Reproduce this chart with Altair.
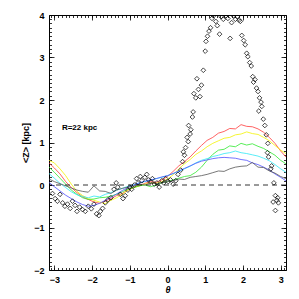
import altair as alt
import pandas as pd
import numpy as np

# ---- data ----
theta = [-3.14, -3.0, -2.85, -2.7, -2.55, -2.4, -2.25, -2.1, -1.95, -1.8, -1.65,
         -1.5, -1.35, -1.2, -1.05, -0.9, -0.75, -0.6, -0.45, -0.3, -0.15, 0.0,
         0.15, 0.3, 0.45, 0.6, 0.75, 0.9, 1.05, 1.2, 1.35, 1.5, 1.65, 1.8, 1.95,
         2.1, 2.25, 2.4, 2.55, 2.7, 2.85, 3.0, 3.14]

z_red = [0.52, 0.40, 0.26, 0.08, -0.06, -0.18, -0.28, -0.34, -0.40, -0.43, -0.38,
         -0.32, -0.25, -0.20, -0.12, -0.06, -0.02, 0.04, 0.08, 0.06, 0.12, 0.20,
         0.32, 0.45, 0.55, 0.66, 0.80, 0.93, 1.05, 1.12, 1.22, 1.26, 1.33, 1.32, 1.42,
         1.38, 1.37, 1.32, 1.24, 1.12, 0.98, 0.80, 0.66]
z_yellow = [0.58, 0.52, 0.38, 0.22, 0.02, -0.15, -0.25, -0.32, -0.36, -0.40, -0.44,
            -0.36, -0.30, -0.22, -0.12, -0.06, -0.02, 0.02, 0.05, 0.04, 0.08, 0.14,
            0.24, 0.38, 0.50, 0.60, 0.72, 0.80, 0.90, 0.98, 1.04, 1.10, 1.12, 1.18, 1.20,
            1.25, 1.21, 1.19, 1.12, 1.04, 0.93, 0.82, 0.74]
z_green = [0.42, 0.30, 0.16, 0.02, -0.12, -0.22, -0.30, -0.34, -0.33, -0.30, -0.29,
           -0.26, -0.22, -0.16, -0.10, -0.06, -0.02, 0.00, -0.04, 0.00, 0.05, 0.08,
           0.12, 0.16, 0.20, 0.22, 0.30, 0.42, 0.58, 0.72, 0.82, 0.84, 0.92, 0.90, 0.98,
           0.94, 0.97, 0.91, 0.86, 0.78, 0.70, 0.58, 0.50]
z_cyan = [0.27, 0.16, 0.04, -0.06, -0.16, -0.23, -0.27, -0.30, -0.26, -0.28, -0.22,
          -0.18, -0.12, -0.08, -0.03, 0.00, 0.05, 0.08, 0.11, 0.15, 0.18, 0.22,
          0.27, 0.32, 0.38, 0.44, 0.52, 0.58, 0.62, 0.67, 0.70, 0.74, 0.76, 0.80, 0.76,
          0.74, 0.71, 0.68, 0.63, 0.57, 0.48, 0.38, 0.30]
z_blue = [0.06, -0.04, -0.14, -0.24, -0.32, -0.40, -0.46, -0.50, -0.48, -0.43, -0.36,
          -0.29, -0.21, -0.13, -0.06, 0.00, 0.05, 0.09, 0.12, 0.15, 0.19, 0.22,
          0.27, 0.33, 0.39, 0.45, 0.51, 0.56, 0.59, 0.62, 0.64, 0.65, 0.64, 0.63, 0.60,
          0.58, 0.52, 0.48, 0.42, 0.35, 0.26, 0.18, 0.10]
z_black = [0.14, 0.08, 0.03, -0.02, -0.07, -0.12, -0.15, -0.17, -0.02, -0.14, -0.15,
           -0.20, -0.12, -0.08, -0.05, -0.02, 0.02, 0.00, 0.05, 0.03, 0.05, 0.08,
           0.10, 0.14, 0.13, 0.18, 0.20, 0.22, 0.25, 0.29, 0.33, 0.32, 0.38, 0.42, 0.44,
           0.45, 0.53, 0.42, 0.41, 0.33, 0.28, 0.20, 0.15]

pt_theta = [-3.05, -2.98, -2.92, -2.85, -2.78, -2.72, -2.65, -2.58, -2.52, -2.45,
            -2.40, -2.33, -2.25, -2.18, -2.10, -2.02, -1.95, -1.88, -1.82, -1.78,
            -1.72, -1.65, -1.58, -1.50, -1.42, -1.36, -1.32, -1.25, -1.18, -1.12,
            -1.05, -1.00, -0.95, -0.88, -0.82, -0.78, -0.72, -0.68, -0.60, -0.55,
            -0.50, -0.45, -0.40, -0.35, -0.28, -0.22, -0.15, -0.10, -0.05, 0.02,
            0.08, 0.15, 0.22, 0.28, 0.35,
            0.40, 0.42, 0.45, 0.48, 0.52, 0.55, 0.56, 0.60, 0.62, 0.66,
            0.68, 0.70, 0.75, 0.78, 0.82, 0.86, 0.90, 0.95, 1.00, 1.02,
            1.06, 1.10, 1.14, 1.18, 1.22, 1.28, 1.32, 1.38, 1.42, 1.48,
            1.55, 1.60, 1.66, 1.70, 1.75, 1.80, 1.85, 1.90, 1.93, 1.97,
            2.02, 2.06, 2.10, 2.13, 2.18, 2.22, 2.26, 2.28, 2.32, 2.36,
            2.40, 2.44, 2.48, 2.50, 2.42, 2.54, 2.58, 2.62, 2.66, 2.65,
            2.68, 2.76, 2.74, 2.82, 2.86, 2.80, 2.90, 2.94, 2.86, 2.92]
pt_z = [-0.20, -0.32, -0.38, -0.22, -0.42, -0.50, -0.45, -0.55, -0.38, -0.48,
        -0.62, -0.52, -0.58, -0.62, -0.50, -0.56, -0.45, -0.68, -0.72, -0.62,
        -0.55, -0.42, -0.35, -0.30, -0.10, 0.05, -0.05, -0.22, -0.32, -0.25,
        -0.12, -0.05, -0.10, 0.00, 0.15, 0.05, 0.20, 0.10, 0.18, 0.25,
        0.12, 0.08, 0.15, 0.02, 0.05, -0.05, 0.10, 0.05, 0.15, 0.08,
        0.12, 0.02, 0.10, 0.25, 0.35,
        0.55, 0.78, 0.70, 0.88, 1.12, 1.02, 1.40, 1.20, 1.30, 1.60,
        1.72, 2.15, 2.05, 2.50, 2.25, 2.08, 2.35, 2.70, 3.15, 3.38,
        3.50, 3.62, 3.70, 3.92, 3.98, 3.85, 3.75, 3.55, 3.96, 3.90,
        3.98, 3.92, 3.45, 3.82, 3.98, 3.90, 3.96, 3.88, 3.85, 3.52,
        3.40, 3.30, 3.10, 3.02, 2.88, 2.80, 2.55, 2.42, 2.48, 2.28,
        2.20, 2.05, 1.95, 1.85, 1.74, 1.55, 1.40, 1.18, 0.98, 0.76,
        0.66, 0.45, 0.38, 0.05, -0.25, -0.40, -0.36, -0.42, -0.60, -0.30]

series_names = ["red", "yellow", "green", "cyan", "blue", "black"]
series_vals = [z_red, z_yellow, z_green, z_cyan, z_blue, z_black]
series_colors = ["#ff3b3b", "#f2f200", "#2ee82e", "#2ee8f5", "#5050ff", "#555555"]

x_major = [-3, -2, -1, 0, 1, 2, 3]
y_major = [-2, -1, 0, 1, 2, 3, 4]
x_minor = [round(v / 10, 1) for v in range(-31, 32)]
y_minor = [round(v / 10, 1) for v in range(-20, 41)]

# ---- tables ----
rows = []
for name, vals in zip(series_names, series_vals):
    assert len(vals) == len(theta)
    for t, v in zip(theta, vals):
        rows.append({"theta": t, "z": v, "s": name})
lines_df = pd.DataFrame(rows)
pts_df = pd.DataFrame({"theta": pt_theta, "z": pt_z})

xscale = alt.Scale(domain=[-np.pi, np.pi], nice=False, zero=False)
yscale = alt.Scale(domain=[-2, 4], nice=False, zero=False)

FONT = "Liberation Sans"

lines = alt.Chart(lines_df).mark_line(strokeWidth=0.8, clip=True).encode(
    x=alt.X("theta:Q", scale=xscale, axis=None),
    y=alt.Y("z:Q", scale=yscale, axis=None),
    color=alt.Color("s:N", scale=alt.Scale(domain=series_names, range=series_colors),
                    legend=None, sort=series_names),
)

points = alt.Chart(pts_df).mark_point(shape="diamond", filled=False, color="black",
                                      size=22, strokeWidth=0.8, opacity=0.9,
                                      clip=True).encode(
    x=alt.X("theta:Q", scale=xscale, axis=None),
    y=alt.Y("z:Q", scale=yscale, axis=None),
)

zero = alt.Chart(pd.DataFrame({"z": [0.0]})).mark_rule(
    color="black", strokeDash=[5, 4], strokeWidth=0.8).encode(
    y=alt.Y("z:Q", scale=yscale, axis=None))

label = alt.Chart(pd.DataFrame({"theta": [-2.8], "z": [1.35], "t": ["R=22 kpc"]})).mark_text(
    align="left", baseline="middle", font=FONT, fontSize=8, fontWeight="bold",
    color="black").encode(
    x=alt.X("theta:Q", scale=xscale, axis=None),
    y=alt.Y("z:Q", scale=yscale, axis=None),
    text="t:N")

dummy = pd.DataFrame({"theta": [0.0], "z": [0.0]})


def axis_layer(xaxis, yaxis):
    return alt.Chart(dummy).mark_point(opacity=0).encode(
        x=alt.X("theta:Q", scale=xscale, axis=xaxis),
        y=alt.Y("z:Q", scale=yscale, axis=yaxis))


common = dict(domain=False, grid=False, tickColor="black", tickWidth=0.8)

ax1 = axis_layer(
    alt.Axis(orient="bottom", values=x_major, offset=-5, tickSize=5, labelFont=FONT,
             labelFontSize=9, labelFontWeight="bold", labelColor="black", labelPadding=5,
             title="θ", titleFont=FONT, titleFontSize=9, titleFontWeight="bold",
             titleFontStyle="italic", titlePadding=1, titleColor="black", **common),
    alt.Axis(orient="left", values=y_major, offset=-5, tickSize=5, labelFont=FONT,
             labelFontSize=9, labelFontWeight="bold", labelColor="black", labelPadding=5,
             title="<Z> [kpc]", titleFont=FONT, titleFontSize=9, titleFontWeight="bold",
             titlePadding=3, titleColor="black", **common))
ax2 = axis_layer(
    alt.Axis(orient="bottom", values=x_minor, offset=-2.5, tickSize=2.5, labels=False,
             title=None, **common),
    alt.Axis(orient="left", values=y_minor, offset=-2.5, tickSize=2.5, labels=False,
             title=None, **common))
ax3 = axis_layer(
    alt.Axis(orient="top", values=x_major, offset=-5, tickSize=5, labels=False,
             title=None, **common),
    alt.Axis(orient="right", values=y_major, offset=-5, tickSize=5, labels=False,
             title=None, **common))
ax4 = axis_layer(
    alt.Axis(orient="top", values=x_minor, offset=-2.5, tickSize=2.5, labels=False,
             title=None, **common),
    alt.Axis(orient="right", values=y_minor, offset=-2.5, tickSize=2.5, labels=False,
             title=None, **common))

chart = alt.layer(lines, zero, points, label, ax1, ax2, ax3, ax4).resolve_axis(
    x="independent", y="independent"
).properties(
    width=237, height=255,
    autosize=alt.AutoSizeParams(type="none"),
    padding={"left": 41, "top": 7, "right": 5, "bottom": 28},
    background="white",
).configure_view(stroke="black", strokeWidth=1)

chart.save("out.html", embed_options={"renderer": "svg", "actions": False})
